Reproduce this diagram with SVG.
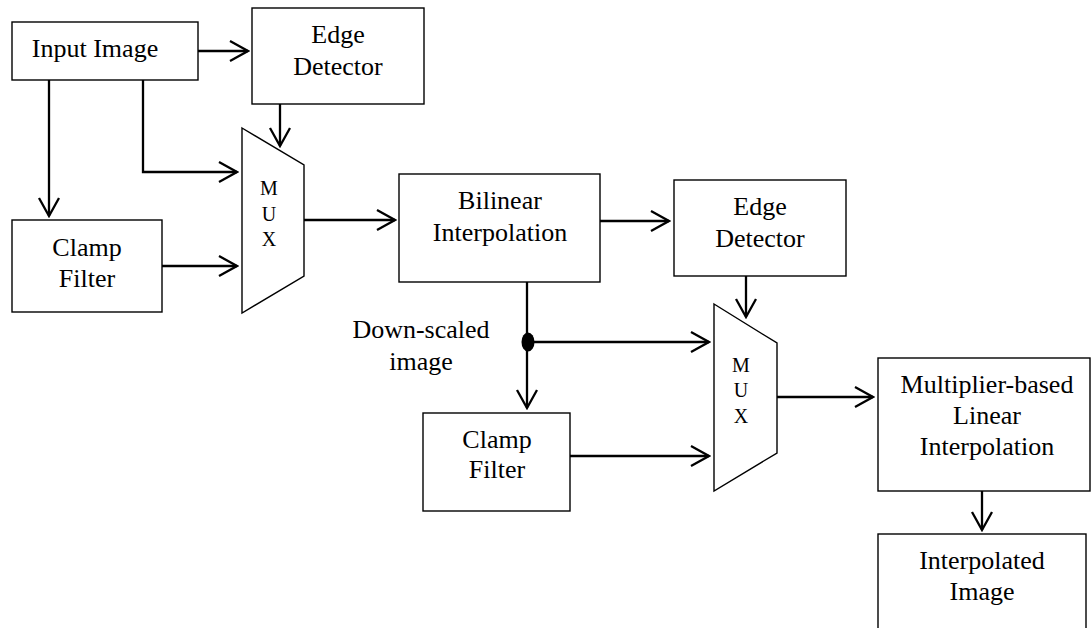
<svg xmlns="http://www.w3.org/2000/svg" width="1091" height="628" viewBox="0 0 1091 628">
<style>
.box{fill:#fff;stroke:#000;stroke-width:1.4}
.t{font-family:"Liberation Serif","Times New Roman",serif;font-size:26px;fill:#000;text-anchor:middle}
.m{font-family:"Liberation Serif","Times New Roman",serif;font-size:20px;fill:#000;text-anchor:middle}
.c{fill:none;stroke:#000;stroke-width:2.3}
</style>
<defs>
<marker id="arr" markerUnits="userSpaceOnUse" viewBox="-22 -12 24 24" markerWidth="24" markerHeight="24" refX="0" refY="0" orient="auto">
<path d="M-18,-10 L0,0 L-18,10" fill="none" stroke="#000" stroke-width="2.3"/>
</marker>
</defs>
<rect width="1091" height="628" fill="#fff"/>
<g id="input-image"><rect class="box" x="12" y="22" width="186" height="58"/><text class="t" x="95" y="57">Input Image</text></g>
<g id="edge-detector-1"><rect class="box" x="252" y="8" width="172" height="96"/><text class="t" x="338" y="43">Edge</text><text class="t" x="338" y="75">Detector</text></g>
<g id="clamp-filter-1"><rect class="box" x="12" y="220" width="150" height="92"/><text class="t" x="87" y="256">Clamp</text><text class="t" x="87" y="287">Filter</text></g>
<g id="mux-1"><polygon class="box" points="242,128 304,165 304,276 242,313"/><text class="m" x="269" y="195">M</text><text class="m" x="269" y="221">U</text><text class="m" x="269" y="246">X</text></g>
<g id="bilinear"><rect class="box" x="399" y="174" width="201" height="108"/><text class="t" x="500" y="209">Bilinear</text><text class="t" x="500" y="241">Interpolation</text></g>
<g id="edge-detector-2"><rect class="box" x="674" y="180" width="172" height="96"/><text class="t" x="760" y="215">Edge</text><text class="t" x="760" y="247">Detector</text></g>
<g id="down-scaled-label"><text class="t" x="421" y="338">Down-scaled</text><text class="t" x="421" y="370">image</text></g>
<g id="clamp-filter-2"><rect class="box" x="423" y="413" width="147" height="98"/><text class="t" x="497" y="448">Clamp</text><text class="t" x="497" y="478">Filter</text></g>
<g id="mux-2"><polygon class="box" points="714,304 777,343 777,453 714,491"/><text class="m" x="741" y="372">M</text><text class="m" x="741" y="397">U</text><text class="m" x="741" y="423">X</text></g>
<g id="multiplier"><rect class="box" x="878" y="358" width="212" height="133"/><text class="t" x="987" y="393">Multiplier-based</text><text class="t" x="987" y="424">Linear</text><text class="t" x="987" y="455">Interpolation</text></g>
<g id="interpolated-image"><rect class="box" x="878" y="534" width="208" height="110"/><text class="t" x="982" y="569">Interpolated</text><text class="t" x="982" y="600">Image</text></g>
<g id="connectors">
<path class="c" d="M198,51 H248" marker-end="url(#arr)"/>
<path class="c" d="M49,80 V216" marker-end="url(#arr)"/>
<path class="c" d="M143,80 V172 H237" marker-end="url(#arr)"/>
<path class="c" d="M280,104 V146" marker-end="url(#arr)"/>
<path class="c" d="M162,266 H237" marker-end="url(#arr)"/>
<path class="c" d="M304,220 H395" marker-end="url(#arr)"/>
<path class="c" d="M600,221 H669" marker-end="url(#arr)"/>
<path class="c" d="M527,282 V408" marker-end="url(#arr)"/>
<path class="c" d="M528,342 H709" marker-end="url(#arr)"/>
<ellipse cx="528" cy="342" rx="6.5" ry="9.5" fill="#000"/>
<path class="c" d="M746,276 V317" marker-end="url(#arr)"/>
<path class="c" d="M570,456 H709" marker-end="url(#arr)"/>
<path class="c" d="M777,397 H873" marker-end="url(#arr)"/>
<path class="c" d="M982,491 V530" marker-end="url(#arr)"/>
</g>
</svg>
